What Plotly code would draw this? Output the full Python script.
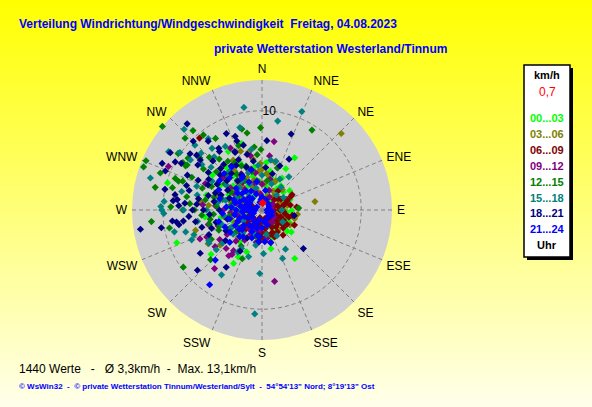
import plotly.graph_objects as go

W, H = 592, 407

# ---------------- data ----------------
compass_labels = ["N", "NNE", "NE", "ENE", "E", "ESE", "SE", "SSE",
                  "S", "SSW", "SW", "WSW", "W", "WNW", "NW", "NNW"]
compass_deg = [0, 22.5, 45, 67.5, 90, 112.5, 135, 157.5,
               180, 202.5, 225, 247.5, 270, 292.5, 315, 337.5]

series_labels = ["00...03", "03...06", "06...09", "09...12",
                 "12...15", "15...18", "18...21", "21...24"]
series_colors = ["#00FF00", "#808000", "#800000", "#800080",
                 "#008000", "#008080", "#000080", "#0000FF"]

# (direction in degrees, speed in km/h)
wind_00_03 = [(343, 7.0), (330, 6.8), (286, 9.9), (249, 9.2), (229, 6.8), (207, 5.3), (208, 6.1),
              (32, 6.2), (30, 4.8), (32, 3.8), (12, 4.0), (38, 3.1), (91, 3.0), (127, 3.7),
              (146, 5.9), (167, 4.0), (263, 5.8), (25, 3.1),
              (300, 2.5), (315, 3.2), (290, 1.8), (270, 2.2), (250, 1.5), (330, 2.8), (345, 3.5),
              (10, 2.4), (20, 1.6), (40, 1.2), (60, 2.0), (80, 1.8), (100, 1.4), (120, 1.9),
              (140, 2.4), (160, 1.7), (200, 2.6), (220, 3.1), (240, 3.8), (260, 4.2), (280, 4.6),
              (300, 4.9), (320, 4.5), (335, 5.1), (350, 4.4), (5, 4.8), (25, 3.3), (50, 2.8),
              (70, 3.0), (110, 2.7), (130, 3.3), (150, 2.2), (180, 1.3), (210, 1.9), (230, 2.3),
              (275, 3.4), (295, 3.7), (310, 1.4), (0, 1.0), (90, 0.8), (200, 4.5), (250, 3.2),
              (285, 5.8), (305, 6.1), (320, 5.6), (265, 5.2), (225, 4.6),
              (270, 3.0), (280, 1.2), (300, 3.3), (320, 2.1), (340, 2.4), (355, 2.9), (15, 3.4),
              (35, 2.6), (55, 3.4), (75, 2.2), (95, 2.5), (115, 3.1), (135, 2.0), (170, 2.7),
              (190, 3.3), (215, 3.9), (235, 2.9), (255, 2.5), (285, 2.6), (310, 3.8), (325, 1.6),
              (245, 1.1), (200, 1.2), (160, 3.0)]
wind_03_06 = [(46, 11.1), (81, 5.4), (97, 3.6), (105, 3.4), (118, 3.2), (253, 7.0), (238, 6.4),
              (347, 6.0), (7, 3.7), (278, 6.3),
              (340, 4.5), (350, 5.2), (355, 3.9), (335, 3.6), (325, 4.8), (345, 3.1), (0, 4.1),
              (10, 3.6), (15, 5.0), (330, 5.8), (320, 3.0), (300, 2.6), (285, 3.3), (270, 2.8),
              (250, 2.1), (240, 4.1), (230, 5.5), (220, 3.7), (200, 2.4), (180, 1.5), (150, 1.8),
              (120, 2.3), (100, 1.7), (80, 2.6), (60, 1.9), (45, 2.9), (30, 2.2), (20, 1.4),
              (350, 1.8), (310, 1.9), (290, 4.7), (260, 3.9), (275, 5.4), (315, 5.9), (340, 6.3),
              (345, 4.3), (338, 2.6), (352, 2.9), (5, 2.7), (358, 4.7), (328, 4.0), (318, 3.4),
              (305, 3.5), (295, 2.2), (280, 2.0), (265, 2.6), (245, 3.0), (225, 2.6), (210, 3.2),
              (190, 2.0), (170, 1.6), (140, 2.6), (110, 1.4), (90, 2.2), (70, 2.0), (40, 1.8),
              (25, 3.2)]
wind_06_09 = [(319, 9.6), (63, 3.4), (67, 2.7), (124, 2.2),
              (90, 1.8), (100, 2.4), (110, 1.5), (120, 2.9), (130, 2.1), (140, 3.3), (150, 1.2),
              (160, 2.6), (170, 1.9), (180, 2.3), (190, 1.4), (200, 2.8), (80, 2.9), (70, 1.3),
              (60, 2.2), (50, 1.6), (40, 2.5), (100, 3.1), (115, 3.6), (125, 1.0), (95, 0.9),
              (135, 1.6), (145, 2.7), (155, 3.0), (165, 3.4), (175, 2.9), (185, 3.2), (195, 2.1),
              (210, 1.7), (220, 2.5), (230, 1.3), (240, 2.0), (250, 1.1), (260, 2.6), (270, 1.6),
              (280, 2.2), (290, 1.0), (300, 1.8), (85, 3.5), (75, 2.4), (105, 1.2), (65, 3.2),
              (110, 2.0), (125, 2.5), (150, 2.0),
              (95, 2.2), (105, 2.8), (115, 2.4), (120, 1.7), (130, 2.8), (135, 1.2), (140, 2.2),
              (145, 1.6), (155, 2.5), (160, 1.4), (170, 2.4), (180, 2.8), (185, 1.8), (190, 2.4),
              (200, 1.6), (205, 2.3), (215, 1.2), (225, 2.0), (90, 1.2), (80, 2.1), (75, 1.6),
              (70, 2.7), (55, 2.0), (100, 0.7), (120, 0.8), (160, 0.9), (195, 0.8), (230, 1.8),
              (245, 1.5), (265, 1.9), (275, 1.1), (285, 1.7)]
wind_09_12 = [(333, 7.0), (348, 5.6), (295, 10.4), (10, 7.0), (8, 5.5), (245, 6.9), (244, 6.2),
              (232, 6.0), (223, 5.3), (216, 5.7), (214, 5.4), (219, 7.6), (170, 7.3),
              (200, 2.2), (210, 3.5), (220, 4.1), (230, 2.8), (240, 3.6), (250, 4.7), (260, 2.4),
              (270, 3.9), (280, 2.0), (290, 4.4), (300, 3.2), (310, 5.1), (320, 2.7), (330, 4.2),
              (340, 2.0), (350, 3.8), (0, 2.6), (15, 3.2), (30, 1.5), (60, 1.2), (100, 1.1),
              (140, 1.6), (170, 2.9), (190, 3.3), (215, 5.0), (235, 5.2), (255, 5.6), (275, 6.0),
              (295, 6.3), (305, 1.7),
              (205, 2.7), (225, 3.2), (245, 2.5), (265, 3.2), (285, 2.7), (305, 3.9), (325, 3.4),
              (345, 2.8), (355, 1.6), (20, 2.1), (80, 1.0), (120, 1.4), (160, 1.2), (185, 2.0),
              (235, 4.3), (255, 3.3), (275, 4.7), (215, 2.3)]
wind_12_15 = [(310, 13.1), (319, 10.6), (322, 9.6), (313, 10.6), (327, 8.6), (346, 8.4), (349, 7.9),
              (353, 6.4), (359, 8.3), (359, 6.1), (32, 9.5), (304, 10.2), (301, 9.3), (300, 8.9),
              (293, 12.7), (290, 12.7), (290, 10.9), (290, 9.3), (289, 8.9), (282, 11.0),
              (284, 9.3), (280, 7.7), (272, 9.2), (264, 11.2), (259, 9.5), (234, 9.8), (226, 7.2),
              (202, 5.3), (87, 3.7), (305, 9.1), (301, 8.8),
              (300, 5.2), (310, 6.0), (320, 6.7), (330, 5.5), (290, 6.4), (280, 5.8), (270, 6.8),
              (260, 5.3), (250, 4.6), (240, 5.9), (305, 7.2), (295, 7.8), (315, 7.5), (325, 4.4),
              (285, 4.1), (275, 7.3), (265, 4.9), (300, 3.6), (320, 3.9), (340, 4.7), (355, 5.6),
              (10, 3.0), (20, 4.5), (230, 3.4), (210, 4.2), (190, 2.8), (340, 6.9), (310, 8.2),
              (290, 8.5), (270, 8.0),
              (285, 5.0), (295, 5.6), (305, 4.6), (315, 5.1), (325, 6.0), (335, 4.9), (345, 4.0),
              (275, 4.6), (265, 6.1), (255, 5.5), (245, 4.8), (300, 2.8), (280, 3.1), (310, 3.3),
              (330, 3.4), (350, 3.0), (260, 3.3), (240, 3.8)]
wind_15_18 = [(350, 10.5), (22, 10.7), (10, 9.1), (323, 9.0), (302, 11.1), (305, 10.1), (286, 11.7),
              (275, 9.9), (272, 10.2), (270, 10.1), (268, 9.9), (270, 7.9), (283, 8.3), (313, 8.4),
              (321, 8.0), (318, 7.2), (314, 9.4), (316, 11.3), (345, 8.6), (283, 6.7), (256, 9.1),
              (254, 8.0), (250, 7.3), (247, 7.7), (238, 6.3), (230, 5.2), (229, 6.1), (208, 4.4),
              (196, 4.9), (178, 4.4), (212, 7.7), (182, 6.4), (184, 10.5), (157, 5.3), (149, 4.6),
              (39, 4.3), (16, 5.1), (44, 2.1), (307, 7.6), (305, 8.8),
              (280, 4.5), (300, 5.8), (320, 5.1), (340, 4.0), (0, 3.5), (20, 2.8), (40, 3.0),
              (270, 5.6), (250, 4.3), (230, 3.8), (210, 4.9), (190, 3.6), (170, 2.5), (150, 3.0),
              (310, 6.7), (290, 7.0), (330, 7.4), (350, 6.2), (260, 6.6), (240, 6.2), (315, 3.2),
              (295, 2.9), (345, 2.3), (10, 5.1), (275, 3.0),
              (285, 3.8), (305, 4.4), (325, 3.6), (335, 2.9), (355, 4.5), (30, 3.6), (60, 2.5),
              (90, 2.0), (120, 2.4), (200, 2.5), (220, 3.0), (240, 3.5), (260, 3.8), (265, 2.1),
              (300, 2.2), (320, 2.3), (240, 2.2)]
wind_18_21 = [(319, 11.5), (335, 8.5), (340, 7.9), (322, 8.8), (344, 6.8), (324, 7.3), (335, 6.5),
              (302, 10.9), (308, 9.2), (309, 8.0), (295, 11.1), (299, 10.0), (292, 10.5), (282, 10.0),
              (288, 8.0), (276, 9.0), (273, 8.4), (277, 8.6), (261, 12.4), (260, 10.3), (263, 9.1),
              (262, 8.7), (262, 8.0), (260, 8.5), (254, 6.3), (235, 7.6), (208, 4.7), (208, 3.2),
              (212, 6.8), (227, 8.9), (21, 8.2), (4, 7.0), (28, 5.8), (22, 4.8), (5, 4.3),
              (16, 3.8), (100, 3.3), (133, 5.7), (340, 7.4),
              (290, 5.0), (300, 6.2), (310, 5.5), (320, 6.0), (330, 5.2), (340, 4.6), (280, 6.5),
              (270, 5.9), (260, 6.8), (250, 5.4), (295, 7.1), (305, 7.9), (315, 7.0), (285, 7.6),
              (275, 7.8), (265, 7.4), (325, 7.6), (335, 6.4), (300, 4.0), (290, 3.5), (320, 3.8),
              (310, 8.6), (280, 8.9), (270, 4.3), (255, 3.6), (245, 5.9), (230, 4.8), (345, 5.8),
              (300, 9.4), (315, 9.8),
              (285, 5.6), (295, 6.0), (305, 6.6), (315, 5.9), (325, 5.4), (335, 5.6), (345, 4.2),
              (275, 6.6), (265, 5.3), (255, 4.8), (290, 4.4), (310, 4.6), (330, 4.1), (320, 4.8),
              (300, 5.2), (280, 4.9), (270, 7.0), (240, 4.2), (350, 5.0), (295, 8.3)]
wind_21_24 = [(215, 9.2), (223, 6.9), (186, 3.2), (165, 3.4), (325, 5.3), (314, 5.3), (328, 3.8),
              (270, 1.5), (280, 2.2), (260, 2.8), (250, 1.9), (240, 3.1), (230, 2.4), (220, 3.5),
              (210, 2.0), (200, 3.0), (190, 2.6), (180, 1.8), (290, 3.0), (300, 2.1), (310, 3.4),
              (320, 2.5), (330, 3.9), (340, 1.7), (350, 2.9), (0, 1.3), (20, 1.1), (60, 0.8),
              (120, 1.1), (160, 1.6), (265, 4.0), (275, 3.6), (285, 4.4), (295, 4.8), (305, 5.2),
              (315, 4.6), (255, 4.5), (245, 4.1), (235, 3.9), (225, 4.6), (215, 1.4), (195, 1.0),
              (175, 3.2), (285, 1.2), (315, 1.8), (345, 4.2), (100, 1.0), (90, 0.5), (270, 0.7),
              (135, 0.9),
              (270, 2.6), (260, 1.2), (250, 2.4), (280, 1.8), (290, 2.4), (300, 1.4), (310, 2.6),
              (320, 1.5), (330, 2.2), (240, 1.6), (230, 3.0), (220, 2.0), (205, 2.4), (195, 1.9),
              (185, 2.7), (170, 1.2), (150, 1.0), (115, 0.6), (80, 0.7), (40, 0.9), (10, 2.0),
              (355, 1.1), (335, 3.1), (305, 3.0), (275, 3.1), (255, 3.4), (245, 2.7), (265, 2.0),
              (285, 2.8), (295, 1.6), (235, 1.2), (225, 2.8), (215, 3.3), (345, 0.8), (300, 0.6),
              (250, 0.9), (200, 1.5)]
wind_series = [wind_00_03, wind_03_06, wind_06_09, wind_09_12,
               wind_12_15, wind_15_18, wind_18_21, wind_21_24]

current_value = (5, 0.7)
current_label = "0,7"
n_values = 1440
mean_speed = "3,3"
max_speed = "13,1"
r_max = 13.1

title_1 = "Verteilung Windrichtung/Windgeschwindigkeit\u00a0\u00a0Freitag, 04.08.2023"
title_2 = "private Wetterstation Westerland/Tinnum"
footer_1 = (f"{n_values} Werte\u00a0\u00a0\u00a0-\u00a0\u00a0\u00a0\u00d8 {mean_speed}km/h"
            f"\u00a0\u00a0-\u00a0\u00a0Max. {max_speed}km/h")
footer_2 = ("\u00a9 WsWin32\u00a0\u00a0-\u00a0\u00a0\u00a9 private Wetterstation Tinnum/Westerland/Sylt"
            "\u00a0\u00a0-\u00a0\u00a054\u00b054'13\" Nord; 8\u00b019'13\" Ost")

# ---------------- figure ----------------
FONT = "Liberation Sans, Arial, sans-serif"


def fx(x):
    return x / W


def fy(y):
    return 1 - y / H


fig = go.Figure()
for lab, col, pts in zip(series_labels, series_colors, wind_series):
    fig.add_trace(go.Scatterpolar(
        theta=[p[0] for p in pts], r=[p[1] for p in pts], mode="markers",
        marker=dict(symbol="diamond", size=5.5, color=col, line=dict(width=0)),
        name=lab, showlegend=False, hoverinfo="skip"))
fig.add_trace(go.Scatterpolar(
    theta=[current_value[0]], r=[current_value[1]], mode="markers",
    marker=dict(symbol="diamond", size=6.5, color="#FF0000", line=dict(width=0)),
    showlegend=False, hoverinfo="skip"))

# background gradient
shapes = []
N = 60
for i in range(N):
    t = (i + 0.5) / N
    b = int(round(0 + 235 * t))
    shapes.append(dict(type="rect", xref="paper", yref="paper", x0=0, x1=1,
                       y0=1 - i / N, y1=1 - (i + 1) / N - 0.002, layer="below",
                       line=dict(width=0), fillcolor=f"rgb(255,255,{b})"))

# legend box with shadow
bx0, bx1, by0, by1 = 524, 570, 65, 257
shapes.append(dict(type="rect", xref="paper", yref="paper", x0=fx(bx0 + 3), x1=fx(bx1 + 3),
                   y0=fy(by0 + 3), y1=fy(by1 + 3), fillcolor="black", line=dict(width=0)))
shapes.append(dict(type="rect", xref="paper", yref="paper", x0=fx(bx0), x1=fx(bx1),
                   y0=fy(by0), y1=fy(by1), fillcolor="white", line=dict(color="black", width=1.5)))

ann = []
ann.append(dict(text=f"<b>{title_1}</b>", x=fx(17), y=fy(24), xanchor="left", yanchor="middle",
                font=dict(family=FONT, size=12, color="#0000FF")))
ann.append(dict(text=f"<b>{title_2}</b>", x=fx(212), y=fy(49), xanchor="left", yanchor="middle",
                font=dict(family=FONT, size=12, color="#0000FF")))
ann.append(dict(text=footer_1, x=fx(17), y=fy(369), xanchor="left", yanchor="middle",
                font=dict(family=FONT, size=12, color="black")))
ann.append(dict(text=f"<b>{footer_2}</b>", x=fx(17), y=fy(386), xanchor="left", yanchor="middle",
                font=dict(family=FONT, size=8, color="#0000FF")))

lcx = 547
ann.append(dict(text="<b>km/h</b>", x=fx(lcx), y=fy(75), xanchor="center", yanchor="middle",
                font=dict(family=FONT, size=11, color="black")))
ann.append(dict(text=current_label, x=fx(lcx), y=fy(92), xanchor="center", yanchor="middle",
                font=dict(family=FONT, size=12, color="#FF0000")))
for i, (lab, col) in enumerate(zip(series_labels, series_colors)):
    ann.append(dict(text=f"<b>{lab}</b>", x=fx(lcx), y=fy(118.3 + i * 15.85), xanchor="center",
                    yanchor="middle", font=dict(family=FONT, size=11, color=col)))
ann.append(dict(text="<b>Uhr</b>", x=fx(lcx), y=fy(245), xanchor="center", yanchor="middle",
                font=dict(family=FONT, size=11, color="black")))
for a in ann:
    a.update(xref="paper", yref="paper", showarrow=False)

cx, cy, R = 262, 210, 130
fig.update_layout(
    width=W, height=H, margin=dict(l=0, r=0, t=0, b=0),
    paper_bgcolor="#FFFF80", showlegend=False,
    shapes=shapes, annotations=ann,
    polar=dict(
        domain=dict(x=[fx(cx - R), fx(cx + R)], y=[fy(cy + R), fy(cy - R)]),
        bgcolor="#D0D0D0",
        angularaxis=dict(direction="clockwise", rotation=90, tickmode="array",
                         tickvals=compass_deg, ticktext=compass_labels,
                         ticks="outside", ticklen=2, tickcolor="rgba(0,0,0,0)",
                         tickfont=dict(family=FONT, size=12, color="black"),
                         showline=False, gridcolor="#808080", griddash="4px,3px", gridwidth=1,
                         layer="below traces"),
        radialaxis=dict(range=[0, r_max], tickmode="array", tickvals=[10], ticktext=["10"],
                        showline=False, angle=90, tickangle=90, ticks="",
                        tickfont=dict(family=FONT, size=12, color="black"),
                        gridcolor="#808080", griddash="4px,3px", gridwidth=1,
                        layer="below traces"),
    ),
)

fig.write_html("out.html", config={"displayModeBar": False},
               post_script="document.body.style.margin='0px';document.body.style.overflow='hidden';")
